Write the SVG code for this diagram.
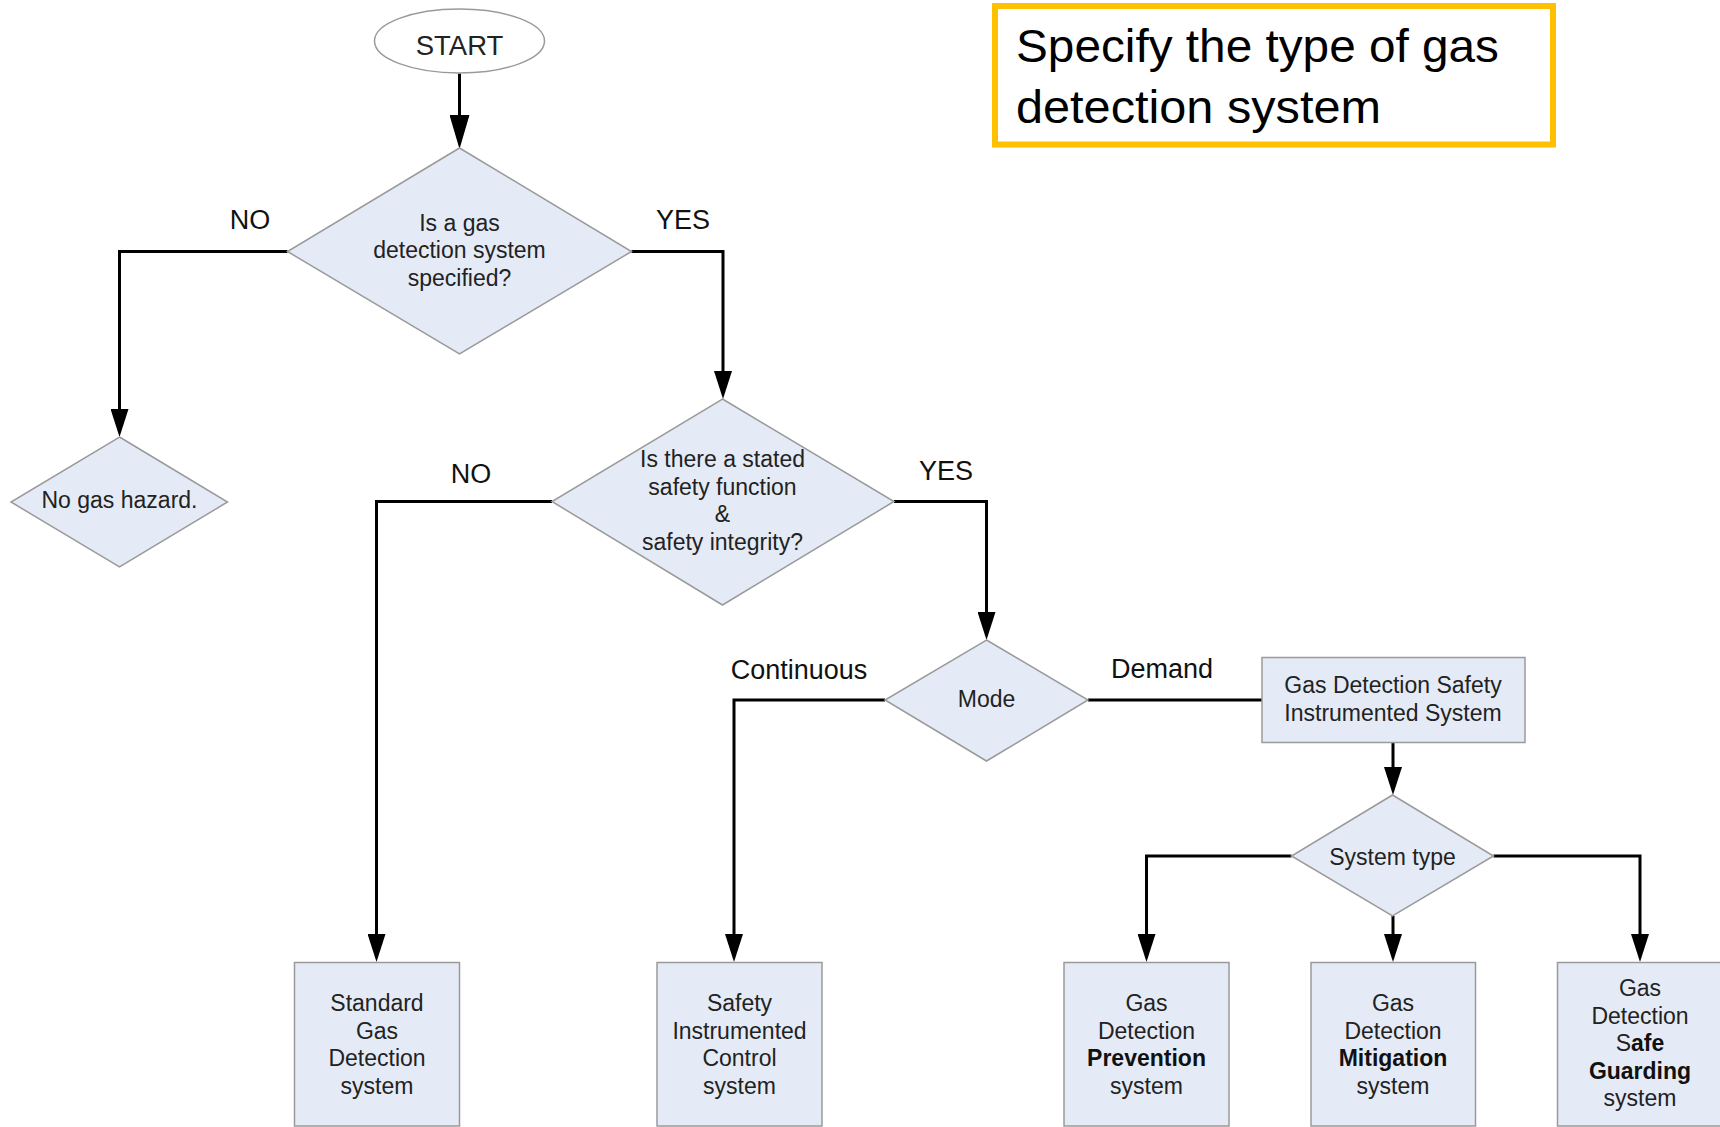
<svg xmlns="http://www.w3.org/2000/svg" width="1720" height="1127" viewBox="0 0 1720 1127">
  <style>
    .node { fill: #E5EBF6; stroke: #9A9A9A; stroke-width: 1.5; }
    .start { fill: #FFFFFF; stroke: #9A9A9A; stroke-width: 1.5; }
    .t { font-family: "Liberation Sans", Arial, sans-serif; font-size: 23px; fill: #222222; text-anchor: middle; }
    .lbl { font-family: "Liberation Sans", Arial, sans-serif; font-size: 27px; fill: #111111; text-anchor: middle; }
    .b { font-weight: bold; fill: #111111; }
    .conn { fill: none; stroke: #000000; stroke-width: 3; }
    .title { font-family: "Liberation Sans", Arial, sans-serif; font-size: 47px; fill: #000000; }
  </style>
  <defs>
    <marker id="arr" viewBox="0 0 28 18" refX="18" refY="9" markerWidth="28" markerHeight="18" markerUnits="userSpaceOnUse" orient="auto">
      <path d="M0,0 L28,9 L0,18 z" fill="#000000"/>
    </marker>
    <marker id="arrBig" viewBox="0 0 34 20" refX="24" refY="10" markerWidth="34" markerHeight="20" markerUnits="userSpaceOnUse" orient="auto">
      <path d="M0,0 L34,10 L0,20 z" fill="#000000"/>
    </marker>
  </defs>

  <rect width="1720" height="1127" fill="#FFFFFF"/>

  <g id="connectors">
    <path class="conn" d="M459.5,73.5 V139" stroke-width="4" marker-end="url(#arrBig)"/>
    <path class="conn" d="M287.5,251.5 H119.5 V427" marker-end="url(#arr)"/>
    <path class="conn" d="M631.5,251.5 H723 V389" marker-end="url(#arr)"/>
    <path class="conn" d="M552,501.5 H376.5 V952" marker-end="url(#arr)"/>
    <path class="conn" d="M894,501.5 H986.5 V630" marker-end="url(#arr)"/>
    <path class="conn" d="M885,700 H734 V952" marker-end="url(#arr)"/>
    <path class="conn" d="M1088,700 H1262"/>
    <path class="conn" d="M1393,742 V785" marker-end="url(#arr)"/>
    <path class="conn" d="M1291.5,856 H1146.5 V952" marker-end="url(#arr)"/>
    <path class="conn" d="M1393,916 V952" marker-end="url(#arr)"/>
    <path class="conn" d="M1493.5,856 H1640 V952" marker-end="url(#arr)"/>
    <text class="lbl" x="250" y="229">NO</text>
    <text class="lbl" x="683" y="229">YES</text>
    <text class="lbl" x="471" y="483">NO</text>
    <text class="lbl" x="946" y="480">YES</text>
    <text class="lbl" x="799" y="679">Continuous</text>
    <text class="lbl" x="1162" y="678">Demand</text>
  </g>

  <g id="title">
    <rect x="995" y="6" width="558" height="138.5" fill="#FFFFFF" stroke="#FFC000" stroke-width="6"/>
    <text class="title" x="1016" y="61.5" textLength="483" lengthAdjust="spacingAndGlyphs">Specify the type of gas</text>
    <text class="title" x="1016" y="123" textLength="365" lengthAdjust="spacingAndGlyphs">detection system</text>
  </g>

  <g id="start">
    <ellipse class="start" cx="459.5" cy="41" rx="85" ry="32"/>
    <text class="t" x="459.5" y="55" style="font-size:27.5px" fill="#111111">START</text>
  </g>

  <g id="q-gas-system">
    <polygon class="node" points="459.5,148 631.5,251.5 459.5,354 287.5,251.5"/>
    <text class="t" x="459.5" y="230.5">Is a gas</text>
    <text class="t" x="459.5" y="258">detection system</text>
    <text class="t" x="459.5" y="285.5">specified?</text>
  </g>

  <g id="no-gas-hazard">
    <polygon class="node" points="119.5,437 227.5,502 119.5,567 11,502"/>
    <text class="t" x="119.5" y="508">No gas hazard.</text>
  </g>

  <g id="q-safety-function">
    <polygon class="node" points="722.5,399 894,501.5 722.5,605 552,501.5"/>
    <text class="t" x="722.5" y="467">Is there a stated</text>
    <text class="t" x="722.5" y="494.5">safety function</text>
    <text class="t" x="722.5" y="522">&amp;</text>
    <text class="t" x="722.5" y="549.5">safety integrity?</text>
  </g>

  <g id="mode">
    <polygon class="node" points="986.5,640 1088,700 986.5,761 885,700"/>
    <text class="t" x="986.5" y="707">Mode</text>
  </g>

  <g id="gd-sis">
    <rect class="node" x="1262" y="657.5" width="263" height="85"/>
    <text class="t" x="1393" y="693">Gas Detection Safety</text>
    <text class="t" x="1393" y="721">Instrumented System</text>
  </g>

  <g id="system-type">
    <polygon class="node" points="1392.5,795 1493.5,856 1392.5,916 1291.5,856"/>
    <text class="t" x="1392.5" y="865">System type</text>
  </g>

  <g id="standard">
    <rect class="node" x="294.5" y="962.5" width="165" height="163.5"/>
    <text class="t" x="377" y="1011">Standard</text>
    <text class="t" x="377" y="1038.5">Gas</text>
    <text class="t" x="377" y="1066">Detection</text>
    <text class="t" x="377" y="1093.5">system</text>
  </g>

  <g id="sic">
    <rect class="node" x="657" y="962.5" width="165" height="163.5"/>
    <text class="t" x="739.5" y="1011">Safety</text>
    <text class="t" x="739.5" y="1038.5">Instrumented</text>
    <text class="t" x="739.5" y="1066">Control</text>
    <text class="t" x="739.5" y="1093.5">system</text>
  </g>

  <g id="prevention">
    <rect class="node" x="1064" y="962.5" width="165" height="163.5"/>
    <text class="t" x="1146.5" y="1011">Gas</text>
    <text class="t" x="1146.5" y="1038.5">Detection</text>
    <text class="t b" x="1146.5" y="1066">Prevention</text>
    <text class="t" x="1146.5" y="1093.5">system</text>
  </g>

  <g id="mitigation">
    <rect class="node" x="1311" y="962.5" width="164.5" height="163.5"/>
    <text class="t" x="1393" y="1011">Gas</text>
    <text class="t" x="1393" y="1038.5">Detection</text>
    <text class="t b" x="1393" y="1066">Mitigation</text>
    <text class="t" x="1393" y="1093.5">system</text>
  </g>

  <g id="safe-guarding">
    <rect class="node" x="1557.5" y="962.5" width="165" height="163.5"/>
    <text class="t" x="1640" y="996">Gas</text>
    <text class="t" x="1640" y="1023.5">Detection</text>
    <text class="t" x="1640" y="1051">S<tspan class="b">afe</tspan></text>
    <text class="t b" x="1640" y="1078.5">Guarding</text>
    <text class="t" x="1640" y="1106">system</text>
  </g>
</svg>
